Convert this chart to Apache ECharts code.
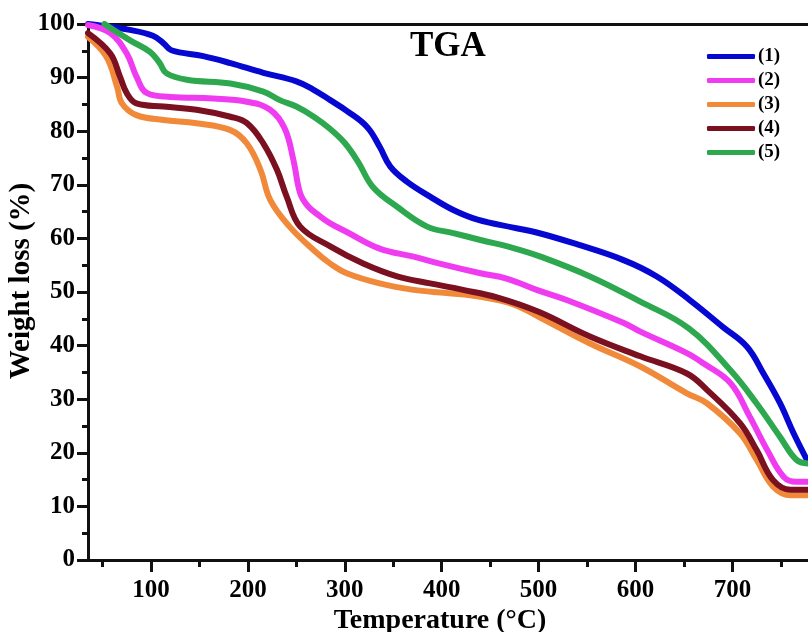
<!DOCTYPE html>
<html>
<head>
<meta charset="utf-8">
<script src="https://cdn.jsdelivr.net/npm/echarts/dist/echarts.min.js"></script>
<style>
  html, body { margin: 0; padding: 0; background: #fff; }
  #chart { width: 808px; height: 632px; }
</style>
</head>
<body>
<div id="chart"></div>
<script>
  // temperature (°C) / weight (%) pairs
  const curve1 = [[35, 100], [44, 99.8], [78, 98.9], [102, 97.8], [113, 96.4], [121, 95.1], [154, 94], [182, 92.7],
    [216, 90.9], [250, 89.3], [267, 87.8], [285, 85.8], [302, 83.8], [323, 80.8], [336, 77.1], [347, 73.4],
    [364, 70.6], [388, 67.8], [412, 65.3], [437, 63.5], [474, 62], [498, 61.1], [536, 59.1], [587, 56],
    [622, 52.9], [656, 48.5], [690, 43.5], [715, 39.8], [732, 34.8], [749, 29.3], [763, 23.7], [778, 18.3]]
  const curve2 = [[35, 99.8], [58, 98.3], [75, 94.5], [85, 90.2], [96, 87.1], [120, 86.4], [164, 86.1], [199, 85.5],
    [223, 84], [238, 80.5], [247, 74.6], [254, 68.4], [262, 66], [274, 64.2], [285, 62.8], [302, 61.2],
    [336, 58.1], [371, 56.6], [398, 55.3], [440, 53.5], [467, 52.5], [498, 50.4], [529, 48.5], [588, 44.2],
    [605, 42.6], [653, 38.6], [670, 36.7], [698, 33], [718, 26.7], [736, 20.5], [753, 15.5], [766, 14.6], [778, 14.6]]
  const curve3 = [[35, 97.6], [54, 93.9], [65, 88.3], [70, 85.2], [85, 83], [113, 82.1], [147, 81.5], [182, 80.2],
    [199, 77.7], [213, 72.8], [223, 67.2], [243, 62.2], [268, 57.8], [285, 55.3], [302, 53.5], [336, 51.6],
    [371, 50.4], [405, 49.8], [440, 49.1], [474, 47.7], [502, 45.2], [553, 40.4], [605, 36.1], [653, 31.1],
    [674, 29.2], [708, 23.6], [725, 18.7], [742, 13.7], [760, 12.1], [778, 12.1]]
  const curve4 = [[35, 98.3], [58, 94.5], [68, 90.2], [75, 87.1], [85, 85.2], [113, 84.6], [147, 84], [182, 82.7],
    [199, 81.5], [216, 77.7], [230, 72.8], [240, 67.8], [254, 62.2], [285, 58.5], [319, 55.3], [354, 52.9],
    [388, 51.6], [422, 50.4], [457, 49], [500, 46.3], [553, 41.7], [605, 38], [653, 34.8], [674, 31.7],
    [708, 25.5], [725, 20.5], [742, 14.9], [760, 13.1], [778, 13.1]]
  const curve5 = [[52, 100], [78, 97], [99, 94.8], [109, 92.7], [116, 90.8], [137, 89.6], [182, 88.9], [216, 87.4],
    [233, 85.8], [250, 84.6], [268, 82.7], [285, 80.4], [300, 77.8], [314, 74.2], [329, 69.6], [354, 65.9],
    [385, 62.2], [412, 61], [440, 59.7], [474, 58.2], [502, 56.6], [553, 52.9], [605, 48.2], [655, 43.2],
    [698, 35.4], [725, 29.2], [749, 23], [766, 18.7], [778, 18]]

  const seriesNames = ['(1)', '(2)', '(3)', '(4)', '(5)']
  const xMajorTicks = [100, 200, 300, 400, 500, 600, 700]
  const xMinorTicks = [50, 150, 250, 350, 450, 550, 650, 750]

  const colors = ['#0707d2', '#f03cf0', '#f08a3a', '#7a1020', '#2ea84e']
  const curves = [curve1, curve2, curve3, curve4, curve5]
  const serif = '"Liberation Serif", "Times New Roman", serif'
  const axisColor = '#111'

  const chart = echarts.init(document.getElementById('chart'))

  const option = {
    animation: false,
    backgroundColor: '#fff',
    textStyle: { fontFamily: serif },
    grid: { left: 88, right: 0, top: 24, bottom: 72, containLabel: false, outerBoundsMode: 'none' },
    graphic: [{
      type: 'text',
      left: 410,
      top: 29,
      style: { text: 'TGA', font: 'bold 35px ' + serif, fill: '#000' }
    }],
    legend: {
      orient: 'vertical',
      left: 702,
      top: 42,
      itemWidth: 48,
      itemHeight: 5,
      itemGap: 5,
      icon: 'roundRect',
      data: seriesNames,
      textStyle: { fontFamily: serif, fontWeight: 'bold', fontSize: 19, color: '#000', padding: [0, 0, 0, -2] }
    },
    xAxis: [
      {
        type: 'value', min: 35, max: 778, position: 'bottom',
        name: 'Temperature (°C)', nameLocation: 'middle', nameGap: 47, nameMoveOverlap: false,
        nameTextStyle: { fontFamily: serif, fontWeight: 'bold', fontSize: 28, color: '#000', padding: [0, 16, 0, 0] },
        axisLine: { lineStyle: { color: axisColor, width: 3 } },
        axisTick: { customValues: xMajorTicks, length: 12, lineStyle: { color: axisColor, width: 3 } },
        axisLabel: { customValues: xMajorTicks, margin: 18, fontFamily: serif, fontWeight: 'bold', fontSize: 25, color: '#000' },
        splitLine: { show: false }
      },
      {
        // minor ticks only
        type: 'value', min: 35, max: 778, position: 'bottom',
        axisLine: { show: false },
        axisTick: { customValues: xMinorTicks, length: 7, lineStyle: { color: axisColor, width: 3 } },
        axisLabel: { show: false },
        splitLine: { show: false }
      },
      {
        // top frame line
        type: 'value', min: 35, max: 778, position: 'top',
        axisLine: { lineStyle: { color: axisColor, width: 3 } },
        axisTick: { show: false },
        axisLabel: { show: false },
        splitLine: { show: false }
      }
    ],
    yAxis: {
      type: 'value', min: 0, max: 100, interval: 10,
      name: 'Weight loss (%)', nameLocation: 'middle', nameGap: 52, nameMoveOverlap: false,
      nameTextStyle: { fontFamily: serif, fontWeight: 'bold', fontSize: 29, color: '#000', padding: [0, 0, 0, 22] },
      axisLine: { show: true, lineStyle: { color: axisColor, width: 3 } },
      axisTick: { length: 11, lineStyle: { color: axisColor, width: 3 } },
      minorTick: { show: true, splitNumber: 2, length: 6, lineStyle: { color: axisColor, width: 3 } },
      axisLabel: { margin: 13, fontFamily: serif, fontWeight: 'bold', fontSize: 25, color: '#000' },
      splitLine: { show: false }
    },
    series: curves.map((data, i) => ({
      name: seriesNames[i],
      type: 'line',
      xAxisIndex: 0,
      data: data,
      smooth: 0.4,
      showSymbol: false,
      color: colors[i],
      lineStyle: { width: 6, color: colors[i], cap: 'round', join: 'round' }
    }))
  }

  chart.setOption(option)
</script>
</body>
</html>
